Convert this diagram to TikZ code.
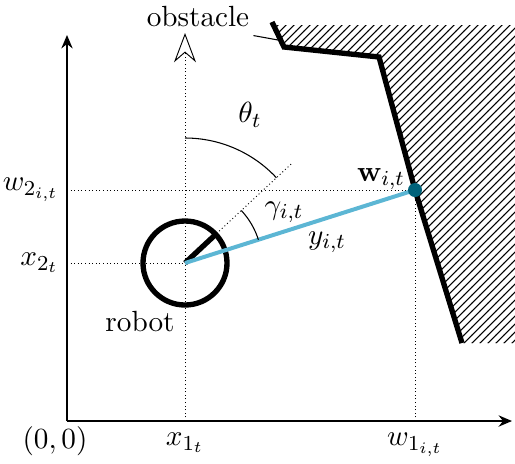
\documentclass[tikz,border=0pt,11pt]{standalone}
\usetikzlibrary{patterns,calc,arrows.meta}
\definecolor{raycyan}{RGB}{92,182,212}
\definecolor{hitteal}{RGB}{0,98,122}
\begin{document}
\begin{tikzpicture}[x=0.375pt, y=0.375pt,
  axis/.style={-{Stealth[length=5pt,width=4.2pt]}, thick},
  guide/.style={densely dotted, line width=0.35pt},
  wall/.style={line width=2pt, line join=miter},
  ray/.style={line width=1.5pt, raycyan}
]
\useasboundingbox (0,0) rectangle (515,463);
% points
\coordinate (O)  at (67,42);
\coordinate (xe) at (512,42);
\coordinate (ye) at (67,428);
\coordinate (R)  at (185,200);
\coordinate (W)  at (415,273);
\coordinate (hd) at ($(R)+(43:145)$);
% obstacle
\fill[pattern=north east lines] (284,416) -- (379,406) -- (W) -- (462,120) -- (515,120) -- (515,438) -- (274,438) -- cycle;
\draw[wall] (272,441) -- (284,416) -- (379,406) -- (W) -- (462,120);
% guides
\draw[guide] (R |- O) -- (R);
\draw[guide, -{Stealth[open,scale=2.4]}] (R) -- (185,430);
\draw[guide] (R -| O) -- (R);
\draw[guide] (W -| O) -- (W);
\draw[guide] (W |- O) -- (W);
\draw[guide] (R) -- (hd);
% axes
\draw[axis] (O) -- (xe);
\draw[axis] (O) -- (ye);
% robot
\draw[wall] (R) circle (42);
\draw[wall] (R) -- ++(43:42);
\draw[ray] (R) -- (W);
\fill[hitteal] (W) circle (7);
% angles
\draw[thin] (R) ++(90:125) arc[start angle=90, end angle=43, radius=125];
\draw[thin] (R) ++(43:77) arc[start angle=43, end angle=17.6, radius=77];
% labels
\node (orig)  at (55,22)  {$(0,0)$};
\node[below] (x1) at (185,40) {$x_{1_t}$};
\node[below] (w1) at (415,40) {$w_{1_{i,t}}$};
\node[left] (x2) at (69,200) {$x_{2_t}$};
\node[left] (w2) at (69,273) {$w_{2_{i,t}}$};
\node (theta) at (250,348) {$\theta_t$};
\node (gamma) at (284,251) {$\gamma_{i,t}$};
\node (dist)  at (327,221) {$y_{i,t}$};
\node (wlbl)  at (381,284) {$\mathbf{w}_{i,t}$};
\node (robot) at (140,141) {robot};
\node (obst)  at (198,446) {obstacle};
\draw (obst.south east) ++(-6,2) coordinate (op) -- (278,423);
\end{tikzpicture}
\end{document}
